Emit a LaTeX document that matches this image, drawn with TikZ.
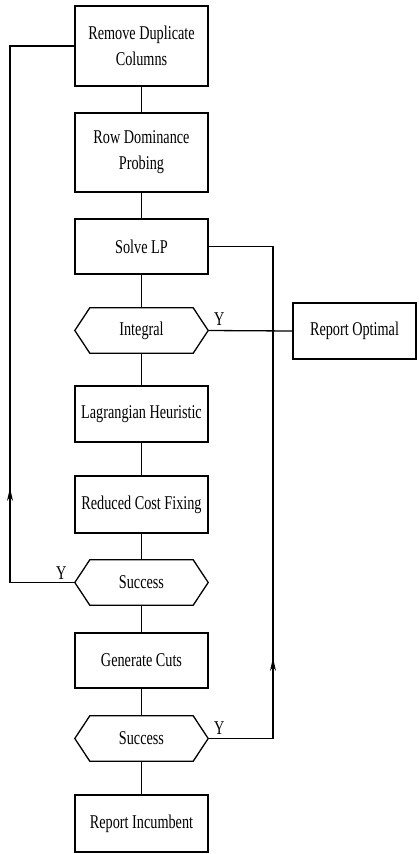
\documentclass[tikz,border=0pt]{standalone}
\usepackage{fontspec}
\setmainfont[FakeStretch=0.73]{Liberation Serif}
\usetikzlibrary{arrows.meta}
\tikzset{
  line/.style={line width=1.3pt},
  procbox/.style={draw, line width=1.3pt, minimum width=133pt, inner sep=0pt, align=center,
    font=\fontsize{19.5}{26}\selectfont},
  hexbox/.style={minimum width=133pt, minimum height=45pt, inner sep=0pt, align=center,
    font=\fontsize{19.5}{26}\selectfont},
  lbl/.style={font=\fontsize{19.5}{22}\selectfont, inner sep=0pt},
  arr/.style={line width=1.3pt, -{Stealth[length=13pt,width=6pt]}}
}
\newcommand\hexdraw[1]{\draw[line] (#1.west) -- ([xshift=15pt]#1.north west) -- ([xshift=-15pt]#1.north east) -- (#1.east) -- ([xshift=-15pt]#1.south east) -- ([xshift=15pt]#1.south west) -- cycle;}
\begin{document}
\begin{tikzpicture}[x=1pt,y=-1pt]
\useasboundingbox (0,0) rectangle (418,854);
\node[procbox, minimum height=80pt] (b1) at (141.5,46) {Remove Duplicate\\Columns};
\node[procbox, minimum height=79pt] (b2) at (141.5,152.5) {Row Dominance\\Probing};
\node[procbox, minimum height=55pt] (b3) at (141.5,246.5) {Solve LP};
\node[hexbox] (h1) at (141.5,330.5) {Integral};
\hexdraw{h1}
\node[procbox, minimum width=123pt, minimum height=56pt] (ro) at (354.5,331) {Report Optimal};
\node[procbox, minimum height=56pt] (b4) at (141.5,414) {Lagrangian Heuristic};
\node[procbox, minimum height=57pt] (b5) at (141.5,504.5) {Reduced Cost Fixing};
\node[hexbox] (h2) at (141.5,582.5) {Success};
\hexdraw{h2}
\node[procbox, minimum height=55pt] (b6) at (141.5,660.5) {Generate Cuts};
\node[hexbox] (h3) at (141.5,738.5) {Success};
\hexdraw{h3}
\node[procbox, minimum height=57pt] (b7) at (141.5,823.5) {Report Incumbent};

\draw[line] (b1) -- (b2);
\draw[line] (b2) -- (b3);
\draw[line] (b3) -- (h1);
\draw[line] (h1) -- (b4);
\draw[line] (b4) -- (b5);
\draw[line] (b5) -- (h2);
\draw[line] (h2) -- (b6);
\draw[line] (b6) -- (h3);
\draw[line] (h3) -- (b7);

% Integral -> Report Optimal
\draw[line] (h1.east) -- (ro.west);
\node[lbl, anchor=base west] (y1) at (214,325) {Y};

% left loop
\coordinate (L1) at (10,582.5);
\coordinate (L2) at (10,46);
\coordinate (LA) at (10,488);
\draw[line] (h2.west) -- (L1) -- (L2) -- (b1.west);
\draw[arr] (L1) -- (LA);
\node[lbl, anchor=base west] (y2) at (56,579) {Y};

% right loop
\coordinate (R1) at (273,738.5);
\coordinate (R2) at (273,246.5);
\coordinate (RA) at (273,658);
\draw[line] (h3.east) -- (R1) -- (R2) -- (b3.east);
\draw[arr] (R1) -- (RA);
\node[lbl, anchor=base west] (y3) at (214,734) {Y};
\end{tikzpicture}
\end{document}
